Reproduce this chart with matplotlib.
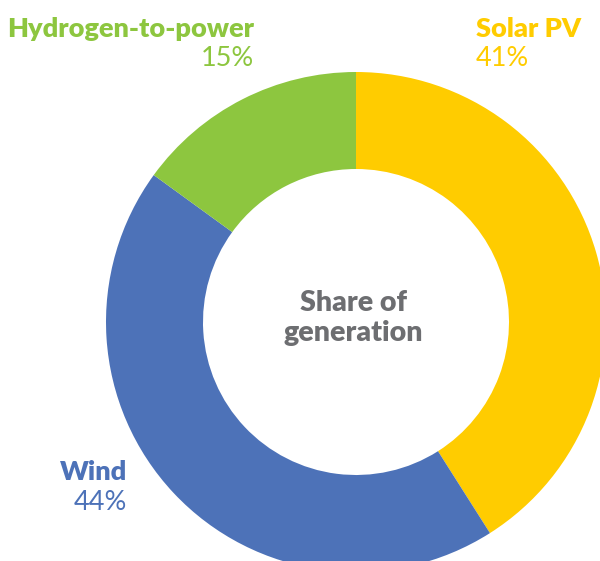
import matplotlib
matplotlib.use("Agg")
import matplotlib.pyplot as plt

categories = ["Solar PV", "Wind", "Hydrogen-to-power"]
shares = [41, 44, 15]
colors = ["#FFCC00", "#4D72B8", "#8DC63F"]
center_label = "Share of\ngeneration"

W, H = 600, 561
fig = plt.figure(figsize=(W / 100, H / 100), dpi=100)
ax = fig.add_axes([0, 0, 1, 1])
ax.pie(shares, colors=colors, startangle=90, counterclock=False,
       radius=250, center=(356, H - 322),
       wedgeprops=dict(width=97, linewidth=0))
ax.set_xlim(0, W)
ax.set_ylim(0, H)
ax.set_aspect("equal")
ax.axis("off")

font = ["Lato", "DejaVu Sans"]
gray = "#6D6E71"

def px(x, y):
    return x / W, 1 - y / H

# label positions (pixels): (x, y_name, y_pct, ha)
label_pos = {
    "Solar PV": (476, 29, 58, "left"),
    "Wind": (127, 472, 502, "right"),
    "Hydrogen-to-power": (254, 29, 58, "right"),
}
for cat, val, col in zip(categories, shares, colors):
    x, yn, yp, ha = label_pos[cat]
    fig.text(*px(x, yn), cat, color=col, fontsize=19.5, fontweight="heavy",
             ha=ha, va="center", family=font)
    fig.text(*px(x, yp), f"{val}%", color=col, fontsize=19.5, fontweight="normal",
             ha=ha, va="center", family=font)

fig.text(*px(353, 318), center_label, color=gray, fontsize=20.5, fontweight="heavy",
         ha="center", va="center", family=font, linespacing=1.2)

fig.savefig("out.png", dpi=100)
